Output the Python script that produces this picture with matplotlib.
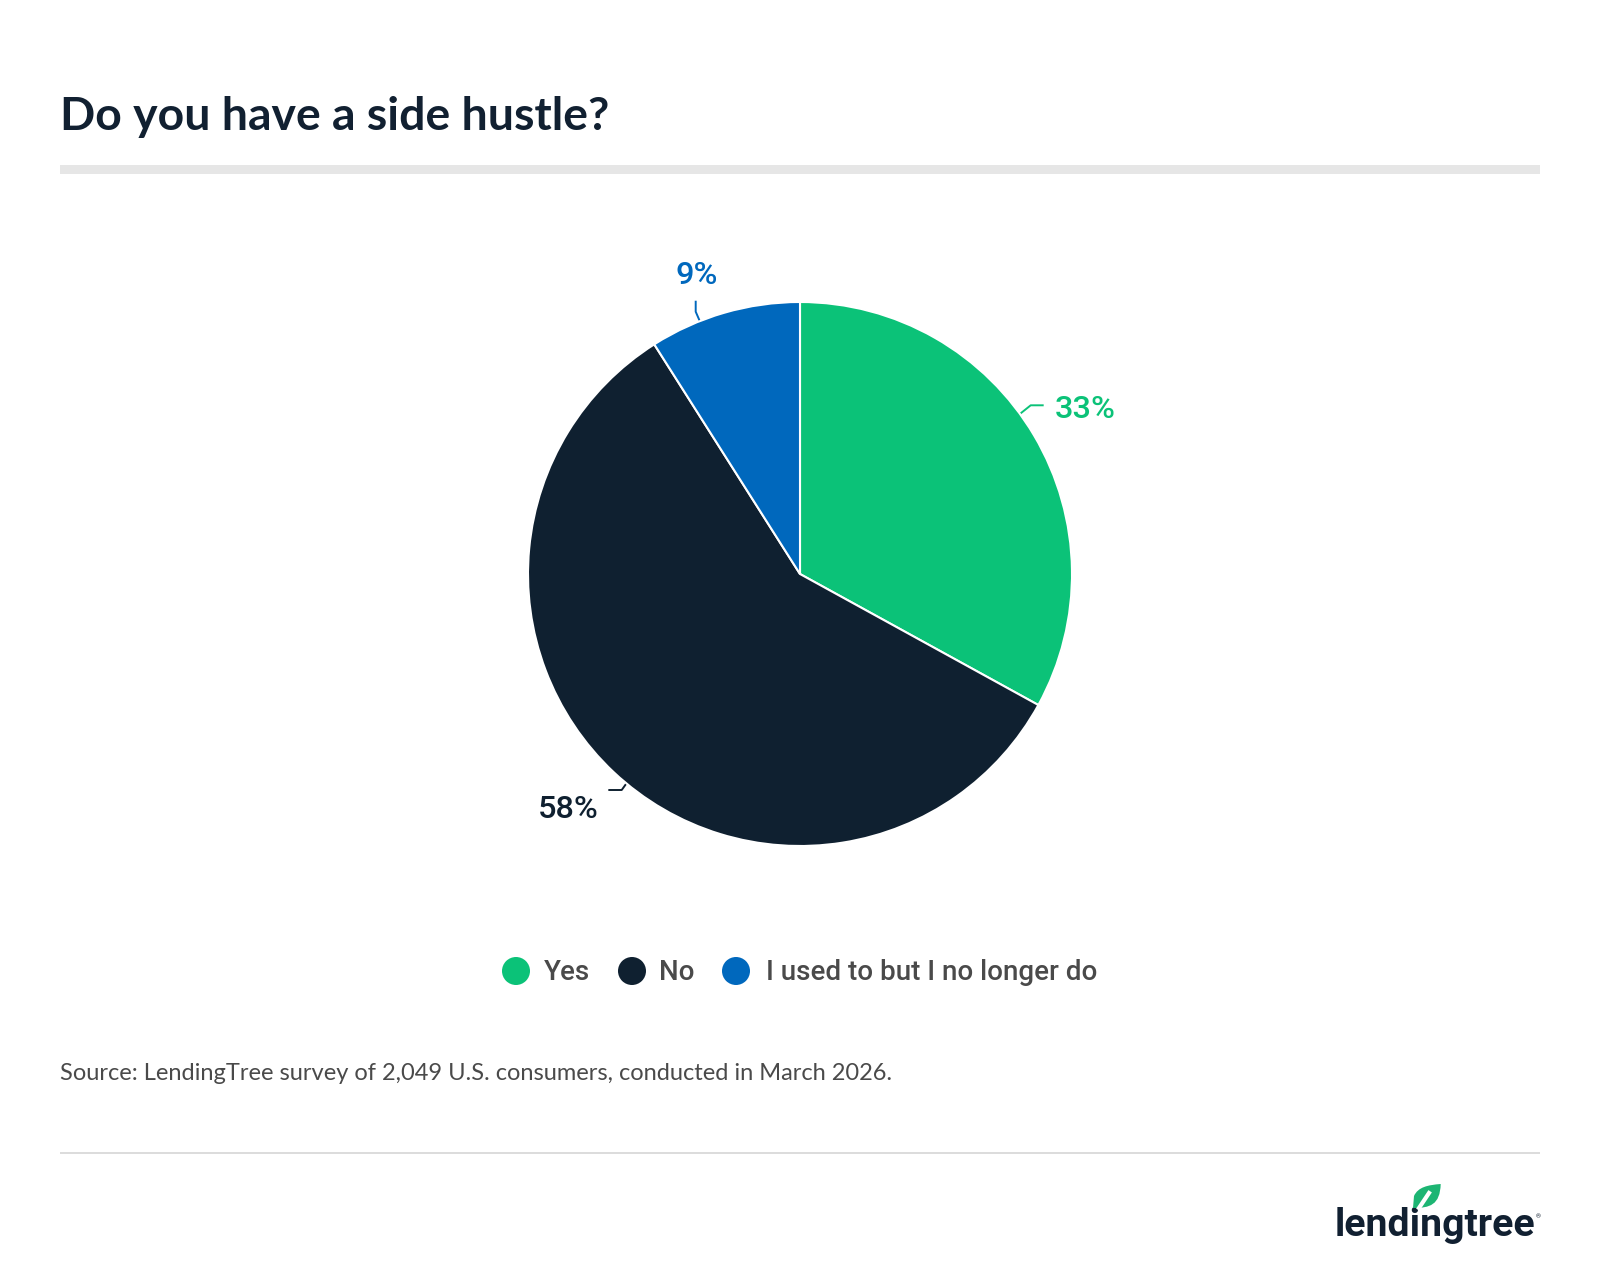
import matplotlib
matplotlib.use("Agg")
import matplotlib.pyplot as plt
from matplotlib.patches import Circle, PathPatch, Rectangle
from matplotlib.path import Path

categorias = ["Yes", "No", "I used to but I no longer do"]
valores = [33, 58, 9]
etiquetas = ["33%", "58%", "9%"]
colores = ["#0BC278", "#0F2030", "#0068BD"]

titulo = "Do you have a side hustle?"
fuente = "Source: LendingTree survey of 2,049 U.S. consumers, conducted in March 2026."

W, H = 1600, 1276
fig = plt.figure(figsize=(W / 100, H / 100), dpi=100, facecolor="white")

# Capa en pixeles para textos y lineas
capa = fig.add_axes([0, 0, 1, 1])
capa.set_xlim(0, W)
capa.set_ylim(H, 0)
capa.axis("off")

# Grafico de torta
cx, cy, r = 800, 574, 272
ax_pie = fig.add_axes([(cx - r) / W, 1 - (cy + r) / H, 2 * r / W, 2 * r / H])
ax_pie.pie(valores, colors=colores, startangle=90, counterclock=False, radius=1,
           wedgeprops={"edgecolor": "white", "linewidth": 1.5})
ax_pie.set_xlim(-1, 1)
ax_pie.set_ylim(-1, 1)

# Titulo y reglas
capa.text(60, 130, titulo, family="Lato", weight="bold", fontsize=33.4, color="#112031", va="baseline")
capa.add_patch(Rectangle((60, 164.5), 1480, 9, color="#E6E6E6", lw=0))
capa.add_patch(Rectangle((60, 1152), 1480, 2, color="#DCDCDC", lw=0))

# Etiquetas con sus lineas
pos_etiquetas = [(1054.5, 409), (537.5, 809), (675.5, 275)]
lineas = [
    [(1020.7, 413.3), (1030.7, 405.3), (1042.7, 405.3)],
    [(609.3, 790), (621.7, 790), (626, 784)],
    [(699.3, 320), (695.7, 311.7), (695.7, 301.7)],
]
for txt, pos, linea, color in zip(etiquetas, pos_etiquetas, lineas, colores):
    capa.text(pos[0], pos[1], txt, family="Roboto", weight="medium", fontsize=23.4, color=color, va="center")
    capa.plot([p[0] for p in linea], [p[1] for p in linea], color=color, lw=1.4)

# Leyenda
x_circulos = [516, 632, 736]
x_textos = [543.5, 659, 765.5]
y_leyenda = 971
for cat, xc, xt, color in zip(categorias, x_circulos, x_textos, colores):
    capa.add_patch(Circle((xc, y_leyenda), 14, color=color, lw=0))
    capa.text(xt, y_leyenda + 2, cat, family="Roboto", weight="medium", fontsize=20, color="#4A4A4A", va="center")

capa.text(60, 1073.5, fuente, family="Lato", fontsize=17.04, color="#4A4A4A", va="center")

# Logo
capa.text(1335, 1236, "lendingtree", family="Roboto", weight="bold", fontsize=28.3, color="#112031", va="baseline")
capa.text(1536, 1217, "®", family="Roboto", fontsize=4.5, color="#112031", va="center")
hoja = Path(
    [(1440.7, 1184), (1428, 1185), (1418, 1187), (1414, 1196), (1413, 1208),
     (1430, 1208), (1440, 1205), (1440.7, 1184)],
    [Path.MOVETO, Path.CURVE4, Path.CURVE4, Path.CURVE4, Path.LINETO,
     Path.CURVE4, Path.CURVE4, Path.CURVE4],
)
capa.add_patch(PathPatch(hoja, facecolor="#1DB573", edgecolor="none", zorder=4))
capa.plot([1419, 1429], [1208, 1193], color="white", lw=3, zorder=5)

fig.savefig("out.png", dpi=100, facecolor="white")
